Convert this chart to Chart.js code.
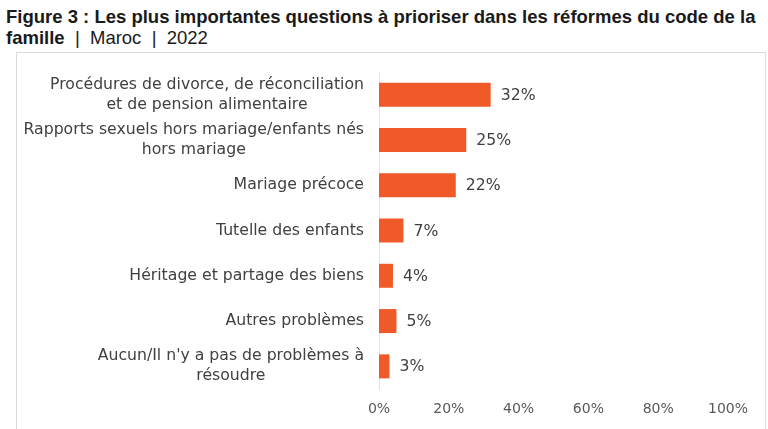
<!DOCTYPE html>
<html>
<head>
<meta charset="utf-8">
<script src="https://cdn.jsdelivr.net/npm/chart.js@4"></script>
<style>
  body { margin: 0; background: #fff; width: 768px; height: 429px; overflow: hidden; position: relative; }
  #title { position: absolute; left: 6px; top: 6px; font-family: "Liberation Sans", sans-serif; font-size: 18.5px; line-height: 21px; color: #1a1a1a; white-space: nowrap; }
  #title b { font-weight: bold; }
  #box { position: absolute; left: 16px; top: 52px; width: 748px; height: 400px; border: 1px solid #dcdcdc; }
  #wrap { position: absolute; left: 0; top: 52px; width: 768px; height: 377px; }
</style>
</head>
<body>
<div id="title"><b>Figure 3 : Les plus importantes questions à prioriser dans les réformes du code de la<br>famille</b>&nbsp; | &nbsp;Maroc&nbsp; | &nbsp;2022</div>
<div id="box"></div>
<div id="wrap"><canvas id="chart"></canvas></div>
<script>
document.addEventListener('DOMContentLoaded', function() {
    const categories = [
        ['Procédures de divorce, de réconciliation', 'et de pension alimentaire'],
        ['Rapports sexuels hors mariage/enfants nés', 'hors mariage'],
        ['Mariage précoce'],
        ['Tutelle des enfants'],
        ['Héritage et partage des biens'],
        ['Autres problèmes'],
        ['Aucun/Il n\'y a pas de problèmes à', 'résoudre']
    ];
    const values = [32, 25, 22, 7, 4, 5, 3];
    const xTicks = [0, 20, 40, 60, 80, 100];

    const textColor = '#404040';
    const labelFont = '15.7px "DejaVu Sans", sans-serif';

    // category labels: lines centred on each other, block right-aligned
    const catLabels = {
        id: 'catLabels',
        afterDraw(chart) {
            const ctx = chart.ctx;
            const y = chart.scales.y;
            ctx.save();
            ctx.font = labelFont;
            ctx.fillStyle = textColor;
            ctx.textAlign = 'center';
            ctx.textBaseline = 'middle';
            categories.forEach((lines, i) => {
                const w = Math.max(...lines.map(l => ctx.measureText(l).width));
                const cx = chart.chartArea.left - 15 - w / 2;
                const yc = y.getPixelForValue(i);
                lines.forEach((l, j) => {
                    ctx.fillText(l, cx, yc + (j - (lines.length - 1) / 2) * 20);
                });
            });
            ctx.restore();
        }
    };

    const valueLabels = {
        id: 'valueLabels',
        afterDatasetsDraw(chart) {
            const ctx = chart.ctx;
            ctx.save();
            ctx.font = labelFont;
            ctx.fillStyle = textColor;
            ctx.textBaseline = 'middle';
            chart.getDatasetMeta(0).data.forEach((bar, i) => {
                ctx.fillText(values[i] + '%', bar.x + 10, bar.y + 1);
            });
            ctx.restore();
        }
    };

    new Chart(document.getElementById('chart'), {
        type: 'bar',
        data: {
            labels: categories,
            datasets: [{
                data: values,
                backgroundColor: '#f05a28',
                barPercentage: 0.53,
                categoryPercentage: 1
            }]
        },
        options: {
            indexAxis: 'y',
            responsive: true,
            maintainAspectRatio: false,
            animation: false,
            layout: { padding: { top: 20, right: 40, left: 0, bottom: 0 } },
            scales: {
                x: {
                    min: 0,
                    max: 100,
                    afterBuildTicks: scale => { scale.ticks = xTicks.map(v => ({ value: v })); },
                    ticks: {
                        callback: v => v + '%',
                        color: '#595959',
                        font: { family: 'DejaVu Sans', size: 14 },
                        padding: 12
                    },
                    grid: { display: false, drawTicks: false },
                    border: { display: false },
                    afterFit: scale => { scale.height = 40; }
                },
                y: {
                    ticks: { display: false },
                    grid: { display: false, drawTicks: false },
                    border: { display: true, color: '#e3e3e3', width: 1 },
                    afterFit: scale => { scale.width = 379; }
                }
            },
            plugins: {
                legend: { display: false },
                tooltip: { enabled: false }
            }
        },
        plugins: [catLabels, valueLabels]
    });
});
</script>
</body>
</html>
